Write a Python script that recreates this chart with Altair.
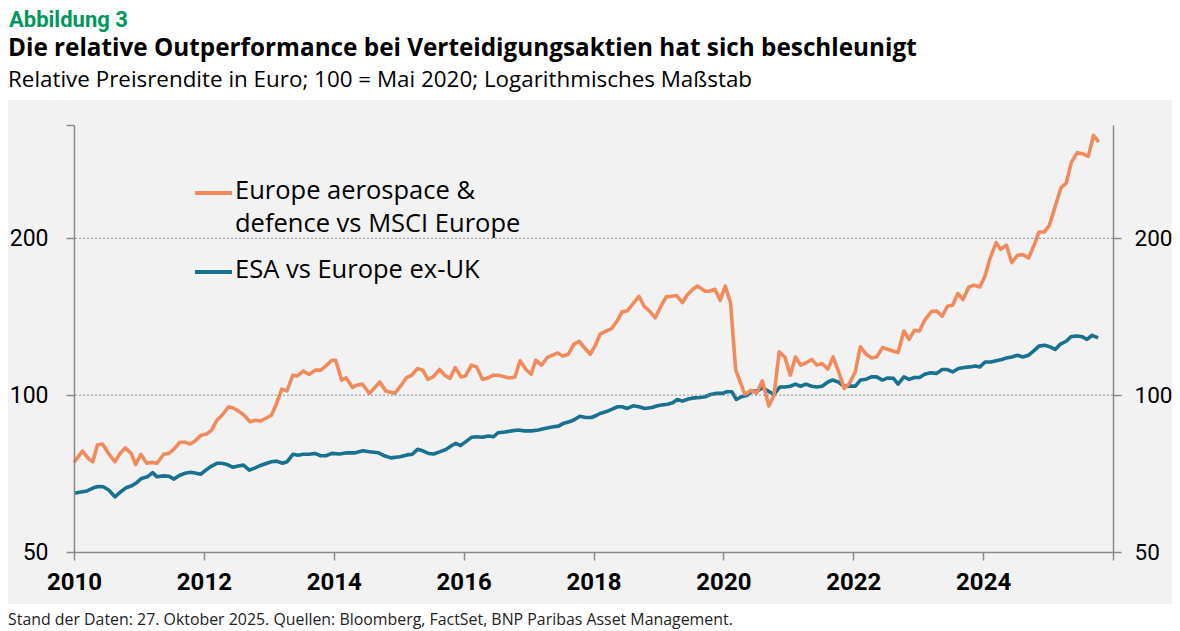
import altair as alt
import pandas as pd

# ---------------- data ----------------
aero_year = [2010.00, 2010.13, 2010.22, 2010.29, 2010.36, 2010.44, 2010.53, 2010.63, 2010.71, 2010.79,
             2010.88, 2010.95, 2011.03, 2011.12, 2011.20, 2011.28, 2011.38, 2011.46, 2011.54, 2011.63,
             2011.71, 2011.79, 2011.86, 2011.96, 2012.04, 2012.12, 2012.20, 2012.29, 2012.38, 2012.45,
             2012.53, 2012.62, 2012.71, 2012.79, 2012.87, 2012.97, 2013.04, 2013.12, 2013.20, 2013.28,
             2013.37, 2013.44, 2013.53, 2013.62, 2013.72, 2013.80, 2013.88, 2013.97, 2014.03, 2014.12,
             2014.19, 2014.29, 2014.35, 2014.44, 2014.55, 2014.71, 2014.80, 2014.94, 2015.04, 2015.12,
             2015.20, 2015.29, 2015.37, 2015.45, 2015.53, 2015.63, 2015.71, 2015.79, 2015.87, 2015.96,
             2016.03, 2016.12, 2016.20, 2016.29, 2016.36, 2016.46, 2016.54, 2016.64, 2016.71, 2016.79,
             2016.87, 2016.96, 2017.04, 2017.11, 2017.20, 2017.29, 2017.37, 2017.45, 2017.53, 2017.61,
             2017.70, 2017.78, 2017.87, 2017.95, 2018.03, 2018.10, 2018.20, 2018.28, 2018.37, 2018.44,
             2018.52, 2018.61, 2018.70, 2018.78, 2018.86, 2018.95, 2019.03, 2019.12, 2019.20, 2019.28,
             2019.37, 2019.44, 2019.53, 2019.60, 2019.72, 2019.78, 2019.87, 2019.95, 2020.03, 2020.11,
             2020.19, 2020.26, 2020.33, 2020.43, 2020.51, 2020.60, 2020.70, 2020.78, 2020.86, 2020.95,
             2021.03, 2021.11, 2021.19, 2021.27, 2021.36, 2021.44, 2021.52, 2021.61, 2021.69, 2021.77,
             2021.86, 2021.94, 2022.03, 2022.11, 2022.20, 2022.28, 2022.36, 2022.45, 2022.53, 2022.62,
             2022.69, 2022.78, 2022.86, 2022.94, 2023.02, 2023.10, 2023.21, 2023.28, 2023.37, 2023.45,
             2023.53, 2023.61, 2023.69, 2023.78, 2023.86, 2023.95, 2024.03, 2024.10, 2024.20, 2024.27,
             2024.36, 2024.44, 2024.53, 2024.61, 2024.70, 2024.78, 2024.86, 2024.94, 2025.02, 2025.11,
             2025.20, 2025.28, 2025.36, 2025.45, 2025.53, 2025.62, 2025.70, 2025.78]
aero_value = [74.3, 78.1, 75.6, 74.5, 80.2, 80.6, 77.3, 74.5, 77.3, 79.2,
              77.3, 73.6, 77.0, 74.0, 74.3, 74.0, 77.0, 77.3, 78.8, 81.2,
              81.2, 80.6, 81.6, 83.8, 84.2, 85.7, 89.5, 91.8, 95.0, 94.5,
              93.3, 91.5, 88.9, 89.5, 89.2, 90.5, 91.5, 96.4, 102.7, 101.9,
              109.2, 108.9, 111.2, 109.6, 111.7, 111.7, 113.8, 116.7, 116.7, 106.9,
              107.9, 103.5, 104.5, 105.0, 100.8, 106.0, 101.9, 100.8, 104.5, 108.1,
              109.2, 112.5, 111.7, 107.2, 108.4, 112.0, 109.2, 107.7, 113.0, 108.4,
              108.9, 114.2, 113.3, 107.3, 107.7, 109.2, 109.2, 108.4, 107.9, 108.4,
              116.4, 112.0, 109.7, 116.7, 114.2, 118.1, 119.3, 120.5, 118.8, 119.8,
              125.3, 126.9, 122.9, 119.8, 124.7, 130.9, 132.8, 134.2, 139.3, 144.5,
              145.1, 149.9, 154.8, 148.1, 145.1, 140.7, 147.5, 154.4, 154.8, 155.3,
              150.6, 155.5, 159.7, 162.0, 158.3, 158.3, 159.7, 152.1, 162.0, 150.3,
              111.7, 106.0, 100.4, 102.2, 100.8, 106.5, 95.3, 100.0, 121.1, 118.1,
              109.2, 118.4, 114.2, 115.3, 117.1, 114.2, 115.0, 112.2, 118.4, 111.3,
              103.0, 105.3, 110.8, 123.8, 119.8, 117.9, 118.4, 123.4, 122.5, 121.4,
              120.7, 132.8, 127.9, 133.2, 132.8, 139.3, 144.9, 145.1, 141.7, 148.1,
              148.8, 156.7, 152.6, 161.3, 162.5, 161.3, 169.3, 182.1, 196.2, 190.5,
              193.9, 179.7, 185.6, 186.1, 183.4, 193.3, 205.6, 205.6, 211.8, 230.3,
              250.2, 255.3, 280.1, 292.0, 290.7, 287.3, 315.2, 306.0]

esa_year = [2010.00, 2010.20, 2010.30, 2010.37, 2010.45, 2010.54, 2010.63, 2010.71, 2010.80, 2010.89,
            2010.97, 2011.04, 2011.13, 2011.21, 2011.28, 2011.38, 2011.46, 2011.54, 2011.63, 2011.71,
            2011.80, 2011.88, 2011.95, 2012.03, 2012.12, 2012.20, 2012.27, 2012.36, 2012.45, 2012.53,
            2012.61, 2012.70, 2012.79, 2012.86, 2012.97, 2013.04, 2013.12, 2013.21, 2013.28, 2013.37,
            2013.45, 2013.53, 2013.62, 2013.71, 2013.80, 2013.88, 2013.97, 2014.09, 2014.20, 2014.33,
            2014.45, 2014.55, 2014.69, 2014.79, 2014.88, 2015.02, 2015.13, 2015.21, 2015.29, 2015.37,
            2015.46, 2015.54, 2015.64, 2015.73, 2015.80, 2015.88, 2015.95, 2016.05, 2016.12, 2016.20,
            2016.29, 2016.38, 2016.46, 2016.53, 2016.64, 2016.74, 2016.84, 2016.94, 2017.05, 2017.15,
            2017.25, 2017.36, 2017.46, 2017.53, 2017.64, 2017.71, 2017.79, 2017.88, 2017.97, 2018.05,
            2018.10, 2018.19, 2018.28, 2018.37, 2018.44, 2018.52, 2018.61, 2018.70, 2018.79, 2018.90,
            2018.97, 2019.05, 2019.14, 2019.22, 2019.29, 2019.37, 2019.46, 2019.55, 2019.64, 2019.72,
            2019.80, 2019.90, 2019.99, 2020.05, 2020.13, 2020.20, 2020.28, 2020.37, 2020.44, 2020.52,
            2020.60, 2020.69, 2020.78, 2020.87, 2020.95, 2021.03, 2021.11, 2021.19, 2021.27, 2021.36,
            2021.44, 2021.52, 2021.61, 2021.68, 2021.77, 2021.86, 2021.94, 2022.03, 2022.11, 2022.20,
            2022.28, 2022.36, 2022.45, 2022.53, 2022.62, 2022.69, 2022.78, 2022.86, 2022.94, 2023.02,
            2023.10, 2023.19, 2023.28, 2023.37, 2023.45, 2023.53, 2023.62, 2023.71, 2023.79, 2023.88,
            2023.95, 2024.03, 2024.12, 2024.20, 2024.29, 2024.36, 2024.44, 2024.53, 2024.61, 2024.70,
            2024.78, 2024.86, 2024.95, 2025.03, 2025.11, 2025.19, 2025.28, 2025.35, 2025.44, 2025.53,
            2025.60, 2025.68, 2025.77]
esa_value = [64.8, 65.5, 66.4, 66.8, 66.7, 65.7, 63.8, 65.1, 66.4, 67.0,
             68.0, 69.2, 69.7, 71.0, 69.7, 70.0, 69.9, 69.0, 70.2, 70.8,
             71.1, 70.8, 70.5, 71.8, 73.1, 74.0, 74.0, 73.6, 72.7, 73.1,
             73.4, 71.8, 72.5, 73.2, 74.0, 74.5, 74.7, 74.0, 74.5, 77.0,
             76.7, 77.0, 77.0, 77.3, 76.5, 76.5, 77.3, 77.1, 77.5, 77.5,
             78.2, 77.9, 77.5, 76.4, 75.8, 76.2, 76.8, 77.0, 78.7, 78.2,
             77.3, 77.1, 77.9, 78.7, 79.8, 80.8, 80.0, 81.7, 83.0, 83.2,
             83.0, 83.5, 83.2, 84.7, 85.0, 85.4, 85.7, 85.4, 85.4, 85.7,
             86.3, 86.9, 87.2, 88.2, 89.0, 89.8, 91.1, 90.6, 90.6, 91.5,
             92.2, 92.9, 93.9, 95.0, 95.0, 94.3, 95.4, 95.0, 94.3, 94.7,
             95.3, 95.7, 96.1, 96.7, 98.1, 97.4, 98.3, 98.8, 99.0, 99.3,
             100.3, 100.8, 100.8, 101.5, 101.5, 98.1, 99.3, 100.0, 101.8, 101.8,
             103.3, 101.8, 100.3, 103.7, 103.7, 104.0, 105.0, 104.0, 105.0, 104.0,
             103.7, 104.0, 106.0, 106.9, 106.0, 104.0, 104.2, 104.0, 106.9, 107.3,
             108.4, 108.4, 106.9, 107.9, 107.7, 105.0, 108.4, 107.2, 108.1, 108.1,
             109.7, 110.4, 110.1, 112.0, 112.0, 110.8, 112.5, 113.0, 113.3, 113.8,
             113.3, 115.8, 115.8, 116.4, 117.1, 117.9, 118.4, 119.3, 118.4, 119.3,
             121.6, 124.2, 124.7, 123.8, 122.4, 125.3, 126.9, 129.4, 129.9, 129.4,
             127.9, 130.3, 128.8]

series_names = ["ESA vs Europe ex-UK", "Europe aerospace & defence vs MSCI Europe"]
series_colors = ["#18718F", "#F28A5B"]
legend_aero = ["Europe aerospace &", "defence vs MSCI Europe"]
legend_esa = "ESA vs Europe ex-UK"
y_ticks = [50, 100, 200]
y_top = 330
x_ticks = [2010, 2012, 2014, 2016, 2018, 2020, 2022, 2024, 2026]
gridlines = [100, 200]

label_text = "Abbildung 3"
title_text = "Die relative Outperformance bei Verteidigungsaktien hat sich beschleunigt"
subtitle_text = "Relative Preisrendite in Euro; 100 = Mai 2020; Logarithmisches Maßstab"
footer_text = "Stand der Daten: 27. Oktober 2025. Quellen: Bloomberg, FactSet, BNP Paribas Asset Management."

# ---------------- chart ----------------
W, H = 1039, 427
FONT = "Open Sans"
AXFONT = "Roboto"
AXIS_GREY = "#8a8a8a"

df = pd.concat([
    pd.DataFrame({"year": esa_year, "value": esa_value, "series": series_names[0]}),
    pd.DataFrame({"year": aero_year, "value": aero_value, "series": series_names[1]}),
], ignore_index=True)

one = pd.DataFrame({"k": [0]})

yscale = alt.Scale(type="log", domain=[50, y_top], nice=False)
xscale = alt.Scale(domain=[2010, 2026], nice=False, zero=False)

axis_common = dict(
    domainColor=AXIS_GREY, domainWidth=1.5, tickColor=AXIS_GREY, tickWidth=1.5, tickSize=8,
    labelFont=AXFONT, labelColor="#000000", grid=False, title=None, zindex=1,
)

bg = alt.Chart(one).mark_rect(color="#f2f2f2").encode(
    x=alt.value(-66), x2=alt.value(W + 59), y=alt.value(-25), y2=alt.value(479)
)

grid = alt.Chart(pd.DataFrame({"v": gridlines})).mark_rule(
    color="#8c8c8c", strokeDash=[2, 2], strokeWidth=1
).encode(
    y=alt.Y("v:Q", scale=yscale,
            axis=alt.Axis(orient="right", values=y_ticks, labelPadding=13, labelAlign="left",
                          labelFontSize=22.5, **axis_common))
)

lines = alt.Chart(df).mark_line(strokeWidth=3.6, strokeJoin="round").encode(
    x=alt.X("year:Q", scale=xscale,
            axis=alt.Axis(values=x_ticks, format="d", labelFontWeight="bold", labelPadding=10,
                          labelFontSize=24, labelFlush=False, labelOverlap=False,
                          labelExpr="datum.value == 2026 ? '' : datum.label", **axis_common)),
    y=alt.Y("value:Q", scale=yscale,
            axis=alt.Axis(orient="left", values=y_ticks + [y_top], labelPadding=18, labelFontSize=23,
                          labelExpr="datum.value > 300 ? '' : datum.label", **axis_common)),
    color=alt.Color("series:N", scale=alt.Scale(domain=series_names, range=series_colors), legend=None),
    detail="series:N",
)

def txt(text, x, y, size, weight="normal", color="#000000", line_height=None, font=FONT):
    kw = dict(text=text, align="left", baseline="alphabetic", font=font, fontSize=size,
              fontWeight=weight, color=color)
    if line_height:
        kw["lineHeight"] = line_height
    return alt.Chart(one).mark_text(**kw).encode(x=alt.value(x), y=alt.value(y))

leg_aero_line = alt.Chart(one).mark_rule(color=series_colors[1], strokeWidth=4).encode(
    x=alt.value(121), x2=alt.value(158), y=alt.value(68))
leg_esa_line = alt.Chart(one).mark_rule(color=series_colors[0], strokeWidth=4).encode(
    x=alt.value(121), x2=alt.value(158), y=alt.value(147))

texts = [
    txt(label_text, -65, -98, 22, "bold", "#00965E", font="Roboto"),
    txt(title_text, -66, -69, 24.3, "bold"),
    txt(subtitle_text, -66, -38, 22.4),
    txt(footer_text, -66, 500, 15.9, color="#222222"),
    txt(legend_aero, 161, 74, 25.5, line_height=33),
    txt(legend_esa, 161, 153, 25.5),
]

chart = alt.layer(bg, lines, grid, leg_aero_line, leg_esa_line, *texts).resolve_scale(
    y="independent"
).properties(
    width=W, height=H,
    autosize=alt.AutoSizeParams(type="none"),
    padding={"left": 66, "top": 117, "right": 59, "bottom": 79},
    background="#ffffff",
).configure_view(stroke=None)

chart.save("out.html", embed_options={"renderer": "svg", "actions": False})
